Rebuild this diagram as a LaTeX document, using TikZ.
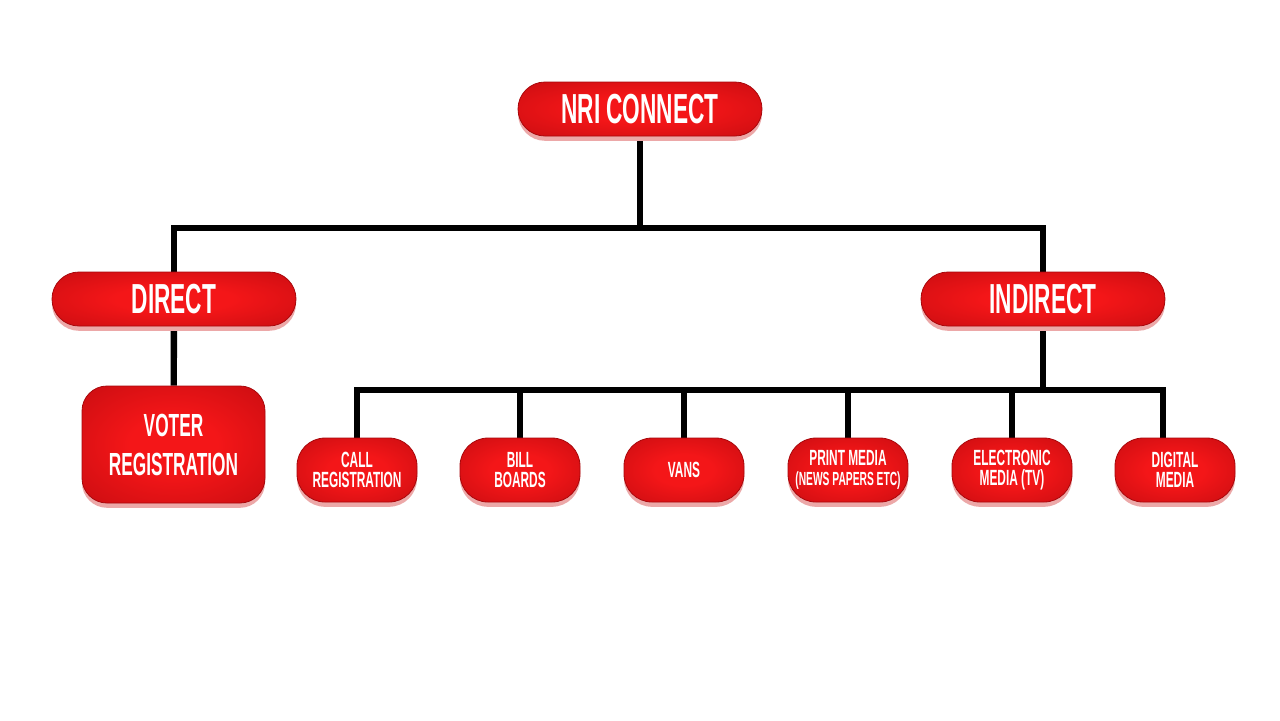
\documentclass[tikz,border=0pt]{standalone}
\usepackage{fontspec}
\newfontfamily\boxfont[FakeStretch=0.54]{Liberation Sans}
\usetikzlibrary{backgrounds}
\definecolor{boxred}{RGB}{244,22,24}
\definecolor{boxmid}{RGB}{206,14,18}
\definecolor{boxdark}{RGB}{168,8,12}
\definecolor{boxrim}{RGB}{236,168,168}
\pgfdeclareradialshading{boxshade}{\pgfpoint{0bp}{0bp}}{color(0bp)=(boxred); color(12bp)=(boxred); color(34bp)=(boxmid); color(50bp)=(boxdark); color(70bp)=(boxdark)}

\begin{document}
\begin{tikzpicture}
%[x=1pt, y=-1pt, node distance = 0 pt]
[x=0.5pt, y=-0.5pt,
box/.style={inner sep=0pt, text=white, align=center, draw=boxdark, line width=0.4pt,
	shading=boxshade,
	preaction={fill=boxrim, transform canvas={yshift=-2.4pt}}},
pill/.style={box, rounded corners=13.5pt, minimum width=122pt, minimum height=27pt,
	font=\boxfont\bfseries\fontsize{21}{21}\selectfont},
big/.style={box, rounded corners=12.5pt, minimum width=91.5pt, minimum height=58.5pt,
	font=\boxfont\bfseries\fontsize{16}{19.5}\selectfont},
small/.style={box, rounded corners=14pt, minimum width=60pt, minimum height=32pt,
	font=\boxfont\bfseries\fontsize{11}{10}\selectfont},
link/.style={line width=3.2pt, black}]

\useasboundingbox (0,0) rectangle (1280,720);

\node[pill] (nri) at (640,109) {NRI CONNECT};
\node[pill] (direct) at (174,299) {DIRECT};
\node[pill] (indirect) at (1043,299) {INDIRECT};
\node[big] (voter) at (173.5,444.5) {VOTER\\REGISTRATION};

\node[small] (call) at (357,470) {CALL\\REGISTRATION};
\node[small] (bill) at (520,470) {BILL\\BOARDS};
\node[small] (vans) at (684,470) {VANS};
\node[small] (print) at (848,470) {PRINT MEDIA\\{\fontsize{9.5}{10}\selectfont(NEWS PAPERS ETC)}};
\node[small] (elec) at (1012,470) {ELECTRONIC\\MEDIA (TV)};
\node[small] (digital) at (1175,470) {DIGITAL\\MEDIA};

\coordinate (topfork) at (640,228);
\coordinate (lowfork) at (1043,390);
\coordinate (digitalin) at ([xshift=-6pt]digital.north);

\begin{scope}[on background layer]
	\fill[white] (0,0) rectangle (1280,720);
	\draw[link] (nri) -- (topfork);
	\draw[link] (direct) |- (topfork) -| (indirect);
	\draw[link] (direct) -- (voter);
	\draw[link] (indirect) -- (lowfork);
	\draw[link] (call) |- (lowfork) -| (digitalin);
	\foreach \n in {bill,vans,print,elec}
		\draw[link] (\n) -- (\n |- lowfork);
\end{scope}
\end{tikzpicture}
\end{document}
